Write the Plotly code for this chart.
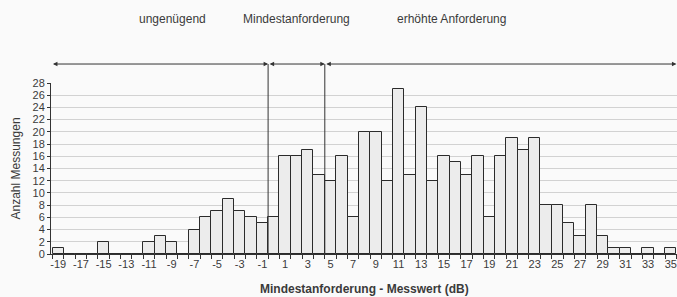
import plotly.graph_objects as go

# Data
bins = list(range(-19, 36))
counts = [1, 0, 0, 0, 2, 0, 0, 0, 2, 3, 2, 0, 4, 6, 7, 9, 7, 6, 5, 6,
          16, 16, 17, 13, 12, 16, 6, 20, 20, 12, 27, 13, 24, 12, 16, 15, 13, 16, 6, 16,
          19, 17, 19, 8, 8, 5, 3, 8, 3, 1, 1, 0, 1, 0, 1]
x_tick_vals = list(range(-19, 36, 2))
y_tick_vals = list(range(0, 29, 2))
zone_labels = ["ungenügend", "Mindestanforderung", "erhöhte Anforderung"]
zone_label_x = [-8.95, 2.0, 15.7]
zone_bounds = [-19.6, -0.5, 4.5, 35.5]

FONT = "Liberation Sans, Arial, sans-serif"
INK = "#333333"
TXT = "#3a3a3a"

fig = go.Figure()
fig.add_trace(go.Bar(
    x=bins, y=counts,
    marker=dict(color="#ececec", line=dict(color="#2b2b2b", width=1)),
    width=1.0,
    hoverinfo="x+y",
))

arrow_y = 1.111
annotations = []
for i in range(3):
    annotations.append(dict(
        x=zone_bounds[i + 1], y=arrow_y, xref="x", yref="paper",
        ax=zone_bounds[i], ay=0, axref="x", ayref="pixel",
        showarrow=True, arrowhead=2, startarrowhead=2, arrowside="end+start",
        arrowsize=0.9, startarrowsize=0.9, arrowwidth=1, arrowcolor=INK,
        text="",
    ))
for lbl, lx in zip(zone_labels, zone_label_x):
    annotations.append(dict(
        x=lx, y=1.375, xref="x", yref="paper", text=lbl, showarrow=False,
        font=dict(family=FONT, size=12, color=TXT), xanchor="center", yanchor="middle",
    ))
# y-axis title
annotations.append(dict(
    x=-0.0575, y=0.5, xref="paper", yref="paper", text="Anzahl Messungen",
    textangle=-90, showarrow=False, xanchor="center", yanchor="middle",
    font=dict(family=FONT, size=12, color=TXT),
))
# x-axis title
annotations.append(dict(
    x=0.5, y=-0.205, xref="x domain", yref="paper",
    text="<b>Mindestanforderung - Messwert (dB)</b>", showarrow=False,
    xanchor="center", yanchor="middle",
    font=dict(family=FONT, size=12, color=TXT),
))

shapes = []
for b in zone_bounds[1:3]:
    shapes.append(dict(type="line", xref="x", yref="paper", x0=b, x1=b, y0=0, y1=arrow_y,
                       line=dict(color=INK, width=1), layer="above"))

fig.update_layout(
    width=677, height=297,
    margin=dict(l=51, r=0, t=83, b=43, autoexpand=False),
    paper_bgcolor="#fafafa", plot_bgcolor="#fafafa",
    bargap=0, showlegend=False,
    annotations=annotations, shapes=shapes,
    font=dict(family=FONT, color=INK),
)
fig.update_xaxes(
    range=[-19.64, 35.55], automargin=False,
    tickvals=x_tick_vals, ticktext=[str(v) for v in x_tick_vals],
    ticks="", showgrid=False, zeroline=False,
    showline=True, linecolor=INK, linewidth=1,
    tickfont=dict(family=FONT, size=11, color=TXT),
    minor=dict(ticks="outside", tick0=-0.5, dtick=1, ticklen=4, tickcolor=INK, showgrid=False),
)
fig.update_yaxes(
    range=[0, 28], tickvals=y_tick_vals, automargin=False,
    showgrid=True, gridcolor="#d2d2d2", gridwidth=1, zeroline=False,
    showline=True, linecolor=INK, linewidth=1,
    ticks="outside", ticklen=3, tickcolor=INK,
    tickfont=dict(family=FONT, size=11, color=TXT),
)

fig.write_html("out.html", config={"displayModeBar": False},
               post_script="document.body.style.margin='0';document.body.style.overflow='hidden';")
